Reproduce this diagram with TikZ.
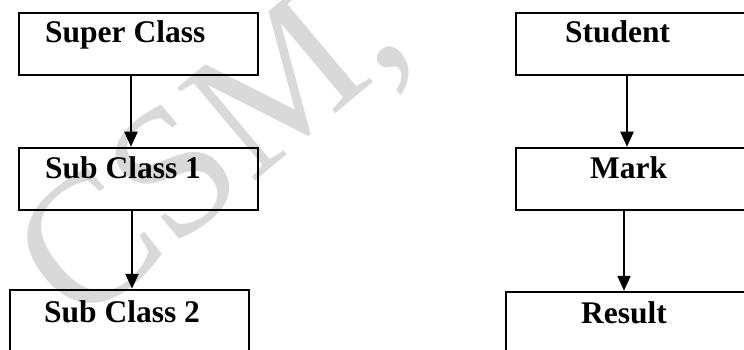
\documentclass[tikz,border=0pt]{standalone}
\usepackage{fontspec}
\setmainfont{Liberation Serif}
\usetikzlibrary{arrows.meta}
\begin{document}
\begin{tikzpicture}[x=1pt,y=-1pt,
  box/.style={draw=black,line width=2.5pt,rectangle,inner sep=0pt,minimum width=239pt,minimum height=62pt},
  lbl/.style={anchor=base west,inner sep=0pt,font=\fontsize{31.5}{36}\selectfont\bfseries},
  arr/.style={line width=2.2pt,-{Triangle[width=13pt,length=15pt]}},
  wm/.style={anchor=base west,inner sep=0pt,rotate=40,text=black!15,font=\fontsize{185}{185}\selectfont}]
\useasboundingbox (0,0) rectangle (744,350);
\fill[white] (0,0) rectangle (744,350);
\begin{scope}
\clip (0,0) rectangle (744,350);
% watermark
\node[wm] (wmark) at (78,330) {CSM,};
% left column
\node[box] (sup) at (138.5,44) {};
\node[box] (sub1) at (138.5,179) {};
\node[box,minimum height=80pt] (sub2) at (129.5,330) {};
% right column
\node[box,minimum width=254pt] (stu) at (643,44) {};
\node[box,minimum width=254pt] (mark) at (643,179) {};
\node[box,minimum width=264pt,minimum height=78pt] (res) at (638,331) {};
% labels
\node[lbl] (tsup) at (45,43) {Super Class};
\node[lbl] (tsub1) at (45,178) {Sub Class 1};
\node[lbl] (tsub2) at (44,322) {Sub Class 2};
\node[lbl] (tstu) at (565,43) {Student};
\node[lbl] (tmark) at (590,178) {Mark};
\node[lbl] (tres) at (581,323) {Result};
% arrow positions
\coordinate (xa) at (131,0);
\coordinate (xb) at (132,0);
\coordinate (xc) at (627,0);
\coordinate (xd) at (624,0);
\draw[arr] (sup.south -| xa) -- (sub1.north -| xa);
\draw[arr] (sub1.south -| xb) -- (sub2.north -| xb);
\draw[arr] (stu.south -| xc) -- (mark.north -| xc);
\draw[arr] (mark.south -| xd) -- (res.north -| xd);
\end{scope}
\end{tikzpicture}
\end{document}
